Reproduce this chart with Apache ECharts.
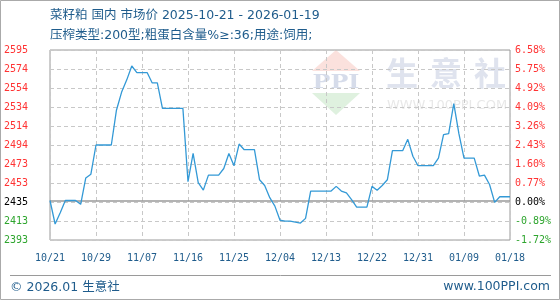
<!DOCTYPE html>
<html><head><meta charset="utf-8">
<script src="https://cdn.jsdelivr.net/npm/echarts@6/dist/echarts.min.js"></script>
<style>html,body{margin:0;padding:0;background:#fff}#c{width:560px;height:300px}</style>
</head><body><div id="c"></div>
<script>
const titleText = '菜籽粕 国内 市场价 2025-10-21 - 2026-01-19';
const subtitleText = '压榨类型:200型;粗蛋白含量%≥:36;用途:饲用;';
const footerLeft = '© 2026.01 生意社';
const footerRight = 'www.100PPI.com';
const startDate = '2025-10-21';
const dayCount = 91;
const prices = [
 2435,2410,2422,2435,2435,2435,2431,2459,2463,2494,
 2494,2494,2494,2531,2550,2563,2578,2571,2571,2571,
 2560,2560,2533,2533,2533,2533,2533,2455,2485,2454,
 2446,2462,2462,2462,2469,2485,2472,2495,2489,2489,
 2489,2457,2451,2438,2429,2414,2413,2413,2412,2411,
 2416,2445,2445,2445,2445,2445,2450,2445,2443,2436,
 2428,2428,2428,2450,2446,2451,2457,2488,2488,2488,
 2500,2482,2472,2472,2472,2472,2480,2505,2506,2538,
 2506,2480,2480,2480,2461,2462,2452,2433,2439,2439,2439
];
const xTickLabels = ['10/21','10/29','11/07','11/16','11/25','12/04','12/13','12/22','12/31','01/09','01/18'];
const yTickLabels = ['2393','2413','2435','2453','2473','2494','2514','2534','2554','2574','2595'];
const pctTickLabels = ['-1.72%','-0.89%','0.00%','0.77%','1.60%','2.43%','3.26%','4.09%','4.92%','5.75%','6.58%'];
const baseValue = 2435;
const yMin = 2393, yMax = 2595, yStep = 20.2;
const baseTickIndex = 2;
const xLabelEvery = 9;

const dates = [];
(function(){
  const d0 = new Date(startDate + 'T00:00:00Z');
  for (let i = 0; i < dayCount; i++) {
    const d = new Date(d0.getTime() + i * 86400000);
    dates.push(d.toISOString().slice(0,10));
  }
})();

const tickIdx = v => Math.round((Number(v) - yMin) / yStep);
const tickColor = v => { const k = tickIdx(v); return k === baseTickIndex ? '#000000' : (k < baseTickIndex ? '#2ea52e' : '#ff3333'); };

const blue = '#1f5c8c';
const mono = "'DejaVu Sans Mono', monospace";
const sans = "'DejaVu Sans', 'Noto Sans CJK SC', sans-serif";

const chart = echarts.init(document.getElementById('c'), null, {renderer:'canvas'});
chart.setOption({
  animation: false,
  backgroundColor: '#ffffff',
  grid: {left: 50, right: 50, top: 50, bottom: 60, show: true, borderColor: '#9a9a9a', borderWidth: 1},
  xAxis: {
    type: 'category', data: dates, boundaryGap: false,
    axisLine: {show: false}, axisTick: {show: false},
    splitLine: {show: true, interval: xLabelEvery - 1, lineStyle: {color: '#c8c8c8', type: [4,3], width: 1}},
    axisLabel: {interval: xLabelEvery - 1, margin: 13, color: blue, fontFamily: mono, fontSize: 10,
      formatter: (v, i) => xTickLabels[Math.round(i / xLabelEvery)] || ''}
  },
  yAxis: [{
    type: 'value', min: yMin, max: yMax, interval: yStep, position: 'left',
    axisLine: {show: false}, axisTick: {show: false},
    splitLine: {show: true, lineStyle: {color: '#c8c8c8', type: [4,3], width: 1}},
    axisLabel: {margin: 22, fontFamily: mono, fontSize: 10, color: tickColor,
      formatter: v => yTickLabels[tickIdx(v)] || ''}
  },{
    type: 'value', min: yMin, max: yMax, interval: yStep, position: 'right',
    axisLine: {show: false}, axisTick: {show: false}, splitLine: {show: false},
    axisLabel: {margin: 5, fontFamily: mono, fontSize: 10, color: tickColor,
      formatter: v => pctTickLabels[tickIdx(v)] || ''}
  }],
  series: [{
    type: 'line', data: prices, yAxisIndex: 0, symbol: 'none', z: 5,
    lineStyle: {color: '#3399d6', width: 1.3},
    markLine: {silent: true, symbol: 'none', label: {show: false}, animation: false,
      lineStyle: {color: '#9a9a9a', type: 'solid', width: 1.5},
      data: [{yAxis: baseValue}]}
  }],
  graphic: [
    {type: 'rect', z: -20, shape: {x: 0.5, y: 0.5, width: 559, height: 299}, style: {fill: 'none', stroke: '#aaaaaa', lineWidth: 1}},
    {type: 'text', x: 50, y: 16, style: {text: titleText, font: '12.5px ' + sans, fill: blue, verticalAlign: 'middle'}},
    {type: 'text', x: 50, y: 36, style: {text: subtitleText, font: '12.5px ' + sans, fill: blue, verticalAlign: 'middle'}},
    {type: 'line', shape: {x1: 10, y1: 275.5, x2: 551, y2: 275.5}, style: {stroke: '#9a9a9a', lineWidth: 1}},
    {type: 'text', x: 10, y: 288, style: {text: footerLeft, font: '12.5px ' + sans, fill: blue, verticalAlign: 'middle'}},
    {type: 'text', x: 550, y: 287, style: {text: footerRight, font: '12.5px ' + sans, fill: blue, verticalAlign: 'middle', align: 'right'}},
    {type: 'polygon', z: -10, shape: {points: [[312,71],[360,71],[336,50]]}, style: {fill: '#fbe1dd'}},
    {type: 'polygon', z: -10, shape: {points: [[312,93],[360,93],[336,115]]}, style: {fill: '#dff1df'}},
    {type: 'text', z: -10, x: 336, y: 83, scaleX: 1.25, style: {text: 'PPI', font: 'bold 19px "DejaVu Serif", serif', fill: '#d6dcea', align: 'center', verticalAlign: 'middle'}},
    {type: 'text', z: -10, x: 402, y: 73, style: {text: '生', font: 'bold 32px "Noto Sans CJK SC"', fill: '#dfe3ee', align: 'center', verticalAlign: 'middle'}},
    {type: 'text', z: -10, x: 446, y: 73, style: {text: '意', font: 'bold 32px "Noto Sans CJK SC"', fill: '#dfe3ee', align: 'center', verticalAlign: 'middle'}},
    {type: 'text', z: -10, x: 490, y: 73, style: {text: '社', font: 'bold 32px "Noto Sans CJK SC"', fill: '#dfe3ee', align: 'center', verticalAlign: 'middle'}},
    {type: 'text', z: -10, x: 447, y: 106, style: {text: 'WWW.100PPI.COM', font: '13px "DejaVu Sans"', fill: '#e8e8e8', align: 'center', verticalAlign: 'middle'}}
  ]
});
</script></body></html>
